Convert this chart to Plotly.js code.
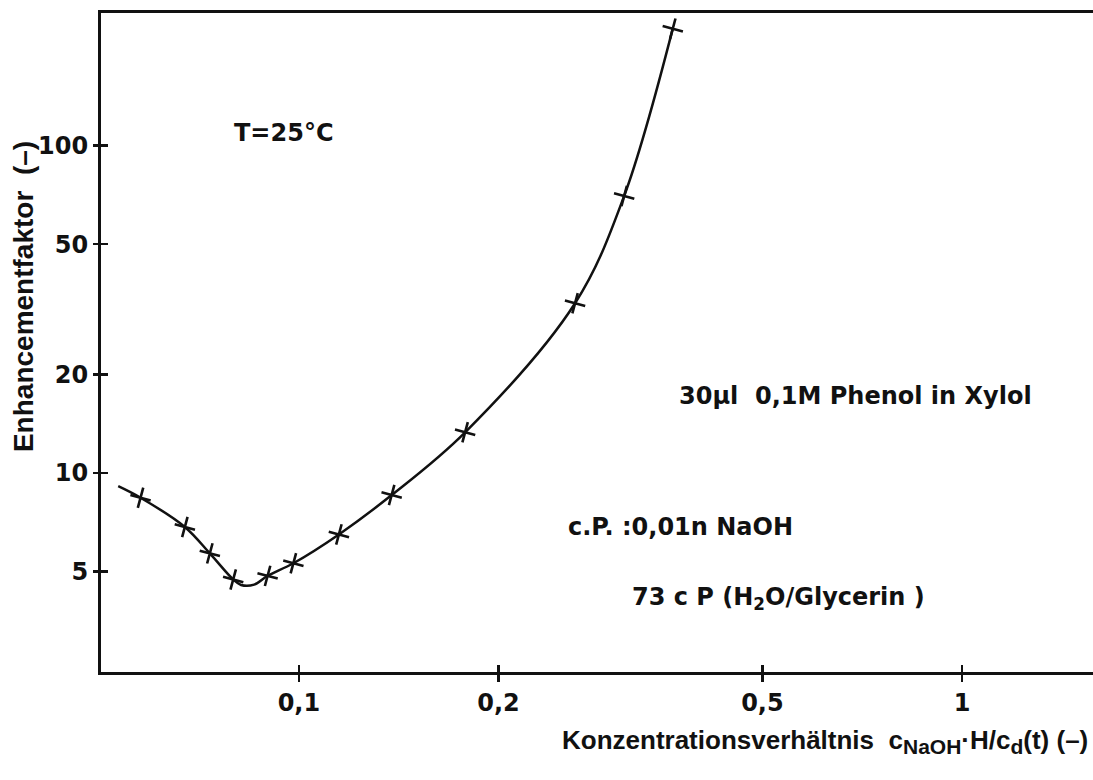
<!DOCTYPE html>
<html>
<head>
<meta charset="utf-8">
<script src="https://cdn.plot.ly/plotly-3.0.1.min.js"></script>
<style>
  html, body { margin: 0; padding: 0; background: #fff; }
  #chart { width: 1093px; height: 780px; }
</style>
</head>
<body>
<div id="chart"></div>
<script>
// Measured points: concentration ratio vs. enhancement factor
const ratio = [0.0577, 0.0673, 0.0734, 0.0796, 0.0897, 0.0981, 0.1149, 0.138, 0.1781, 0.2609, 0.3094, 0.3663];
const enhancement = [8.39, 6.83, 5.67, 4.72, 4.84, 5.29, 6.48, 8.55, 13.3, 33.0, 70.2, 228];

// Hand-drawn smoothing curve through the measurements
const curveRatio = [0.0534, 0.0577, 0.0673, 0.0734, 0.0796, 0.0818, 0.0856, 0.0897, 0.0981, 0.1149, 0.138, 0.1781, 0.2609, 0.3094, 0.3663];
const curveEnh = [9.1, 8.39, 6.83, 5.67, 4.72, 4.54, 4.55, 4.84, 5.29, 6.48, 8.55, 13.3, 33.0, 70.2, 228];

// Axis ticks
const xTicks = [0.1, 0.2, 0.5, 1];
const xTickText = ["0,1", "0,2", "0,5", "1"];
const yTicks = [5, 10, 20, 50, 100];
const yTickText = ["5", "10", "20", "50", "100"];

const xRange = [Math.log10(0.0503), Math.log10(1.576)];
const yRange = [Math.log10(2.46), Math.log10(254.6)];

const WIDE = "DejaVu Sans, Verdana, sans-serif";
const NARROW = "Liberation Sans, Arial, Helvetica, sans-serif";
const ink = "#111";

const traces = [
  {
    x: curveRatio, y: curveEnh, type: "scatter", mode: "lines",
    line: { color: ink, width: 2.5, shape: "spline", smoothing: 1 },
    hoverinfo: "skip", showlegend: false
  },
  {
    x: ratio, y: enhancement, type: "scatter", mode: "markers",
    marker: { symbol: "cross-thin", size: 15, angle: 15, color: ink, line: { color: ink, width: 2.6 } },
    showlegend: false
  },
  // carries the overlay axes that draw the inward half of each tick
  { x: [], y: [], xaxis: "x2", yaxis: "y2", type: "scatter", showlegend: false }
];

const tickFont = { family: WIDE, size: 24, color: ink, weight: "bold" };
const noteFont = { family: WIDE, size: 24, color: ink, weight: "bold" };

const layout = {
  width: 1093, height: 780,
  margin: { l: 101, r: 0, t: 13, b: 108 },
  paper_bgcolor: "#fff", plot_bgcolor: "#fff",
  showlegend: false,
  xaxis: {
    type: "log", range: xRange, showgrid: false, zeroline: false,
    showline: true, linecolor: ink, linewidth: 3, mirror: true,
    ticks: "outside", ticklen: 7, tickwidth: 2.5, tickcolor: ink,
    tickvals: xTicks, showticklabels: false
  },
  yaxis: {
    type: "log", range: yRange, showgrid: false, zeroline: false,
    showline: true, linecolor: ink, linewidth: 3,
    ticks: "outside", ticklen: 5, tickwidth: 2.5, tickcolor: ink,
    tickvals: yTicks, ticktext: yTickText, tickfont: tickFont,
    ticklabelstandoff: 0
  },
  xaxis2: {
    type: "log", range: xRange, overlaying: "x", anchor: "y2", side: "bottom",
    showgrid: false, zeroline: false, showline: false,
    ticks: "inside", ticklen: 7, tickwidth: 2.5, tickcolor: ink,
    tickvals: xTicks, ticktext: xTickText, tickfont: tickFont,
    ticklabelstandoff: 14
  },
  yaxis2: {
    type: "log", range: yRange, overlaying: "y", anchor: "x2", side: "left",
    showgrid: false, zeroline: false, showline: false,
    ticks: "inside", ticklen: 7, tickwidth: 2.5, tickcolor: ink,
    tickvals: yTicks, showticklabels: false
  },
  annotations: [
    { text: "T=25°C", xref: "paper", yref: "paper", x: 0.132, y: 0.818,
      xanchor: "left", yanchor: "middle", showarrow: false, font: noteFont },
    { text: "30μl\u00a0 0,1M Phenol in Xylol", xref: "paper", yref: "paper", x: 0.5806, y: 0.4188,
      xanchor: "left", yanchor: "middle", showarrow: false, font: noteFont },
    { text: "c.P. :0,01n NaOH", xref: "paper", yref: "paper", x: 0.4688, y: 0.22,
      xanchor: "left", yanchor: "middle", showarrow: false, font: noteFont },
    { text: "73 c P (H<sub>2</sub>O/Glycerin )", xref: "paper", yref: "paper", x: 0.5333, y: 0.112,
      xanchor: "left", yanchor: "middle", showarrow: false, font: noteFont },
    { text: "Konzentrationsverhältnis  c<sub><span style=\"font-size:21px\">NaOH</span></sub>·H/c<sub><span style=\"font-size:21px\">d</span></sub>(t) (–)",
      xref: "paper", yref: "paper",
      x: 0.997, y: -0.106, xanchor: "right", yanchor: "middle", showarrow: false,
      font: { family: NARROW, size: 26, color: ink, weight: "bold" } },
    { text: "Enhancementfaktor  (–)", xref: "paper", yref: "paper", x: -0.0786, y: 0.569,
      xanchor: "center", yanchor: "middle", textangle: -90, showarrow: false,
      font: { family: NARROW, size: 28, color: ink, weight: "bold" } }
  ]
};

Plotly.newPlot("chart", traces, layout, { staticPlot: true, displayModeBar: false });
</script>
</body>
</html>
